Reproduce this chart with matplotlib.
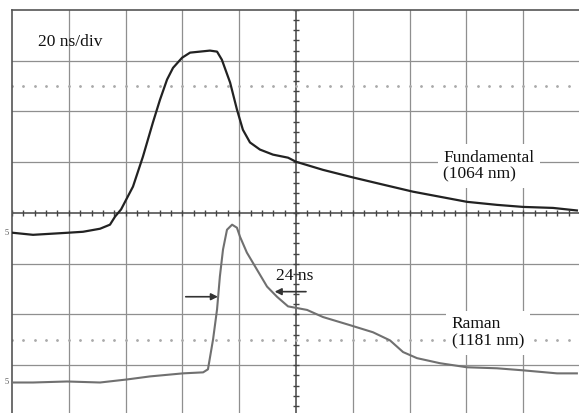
import matplotlib
matplotlib.use("Agg")
import matplotlib.pyplot as plt
import numpy as np

# Time (ns) and signal (divisions)
fund_t = [0.35, 7.4, 19.4, 25.0, 31.0, 34.5, 36.3, 38.4, 42.6, 46.1, 49.6, 52.1, 54.6,
          56.7, 59.9, 62.7, 66.2, 69.7, 72.2, 73.9, 76.8, 79.2, 81.3, 83.8, 87.3, 91.9,
          97.2, 100.0, 109.5, 120.1, 130.6, 141.2, 150.7, 160.2, 170.8, 179.9, 190.5, 198.9]
fund_v = [-0.39, -0.43, -0.39, -0.37, -0.31, -0.23, -0.07, 0.07, 0.52, 1.11, 1.78, 2.23, 2.63,
          2.86, 3.06, 3.16, 3.18, 3.20, 3.18, 3.02, 2.57, 2.04, 1.64, 1.39, 1.25, 1.15,
          1.09, 1.01, 0.85, 0.70, 0.56, 0.42, 0.32, 0.22, 0.16, 0.12, 0.10, 0.05]

raman_t = [0.35, 7.4, 19.4, 31.0, 40.5, 48.6, 60.2, 67.3, 69.0, 70.8, 72.2, 73.2, 74.3,
           75.7, 77.5, 79.2, 80.3, 82.7, 86.3, 89.8, 93.3, 97.2, 103.9, 109.5, 119.0,
           127.1, 133.1, 137.7, 142.6, 150.7, 160.2, 170.8, 179.9, 191.9, 198.9]
raman_v = [-3.34, -3.34, -3.32, -3.34, -3.28, -3.22, -3.16, -3.14, -3.08, -2.49, -1.90, -1.25, -0.72,
           -0.33, -0.23, -0.29, -0.47, -0.78, -1.12, -1.45, -1.65, -1.84, -1.91, -2.05, -2.21,
           -2.35, -2.51, -2.74, -2.86, -2.96, -3.04, -3.06, -3.10, -3.16, -3.16]

xgrid = [20, 40, 60, 80, 120, 140, 160, 180]
ygrid = [-3, -2, -1, 1, 2, 3]
dotted_y = [2.5, -2.5]

plt.rcParams['font.family'] = ['Liberation Serif', 'DejaVu Serif']

fig = plt.figure(figsize=(5.79, 4.13), dpi=100)
ax = fig.add_axes([12/579, 0, 567/579, 403/413])
ax.set_xlim(0, 199.65)
ax.set_ylim(-3.941, 4)
ax.set_xticks([]); ax.set_yticks([])
for s in ['right', 'bottom']:
    ax.spines[s].set_visible(False)
for s in ['top', 'left']:
    ax.spines[s].set_color('#555555')
    ax.spines[s].set_linewidth(1.2)

gc = '#8f8f8f'
for x in xgrid:
    ax.axvline(x, color=gc, lw=0.9, zorder=1)
for y in ygrid:
    ax.axhline(y, color=gc, lw=0.9, zorder=1)
# center lines with minor ticks
ax.axvline(100, color='#444444', lw=1.1, zorder=1)
ax.axhline(0, color='#444444', lw=1.1, zorder=1)
minor_x = np.arange(0, 200.1, 4)
minor_y = np.arange(-4, 4.01, 0.2)
ax.plot(minor_x, np.zeros_like(minor_x), ls='none', marker='|', ms=4.5, mew=1.0, color='#444444', zorder=1)
ax.plot(np.full_like(minor_y, 100), minor_y, ls='none', marker='_', ms=4.5, mew=1.0, color='#444444', zorder=1)
for dy in dotted_y:
    ax.plot(minor_x, np.full_like(minor_x, dy), ls='none', marker='.', ms=2, color='#aaaaaa', zorder=1)

ax.plot(raman_t, raman_v, color='#707070', lw=1.5, zorder=4)
ax.plot(fund_t, fund_v, color='#222222', lw=1.6, zorder=4)

# labels
ax.text(9.2, 3.375, '20 ns/div', fontsize=12.5, va='center', ha='left', color='#111111', zorder=5)
ax.text(151.8, 0.93, 'Fundamental\n(1064 nm)', fontsize=12.5, va='center', ha='left',
        color='#111111', linespacing=1.05, zorder=3,
        bbox=dict(facecolor='white', edgecolor='none', pad=4))
ax.text(154.9, -2.36, 'Raman\n(1181 nm)', fontsize=12.5, va='center', ha='left',
        color='#111111', linespacing=1.05, zorder=3,
        bbox=dict(facecolor='white', edgecolor='none', pad=4))
ax.text(93.0, -1.24, '24 ns', fontsize=12.5, va='center', ha='left', color='#111111', zorder=5)

# FWHM arrows
ax.annotate('', xy=(73.5, -1.65), xytext=(60.2, -1.65),
            arrowprops=dict(arrowstyle='-|>', color='#333333', lw=1.2, mutation_scale=10), zorder=5)
ax.annotate('', xy=(91.5, -1.55), xytext=(104.5, -1.55),
            arrowprops=dict(arrowstyle='-|>', color='#333333', lw=1.2, mutation_scale=10), zorder=5)

# channel markers
ax.text(-1.8, -0.39, '5', fontsize=6, va='center', ha='center', color='#555555', clip_on=False)
ax.text(-1.8, -3.34, '5', fontsize=6, va='center', ha='center', color='#555555', clip_on=False)

fig.savefig('out.png', dpi=100, facecolor='white')
